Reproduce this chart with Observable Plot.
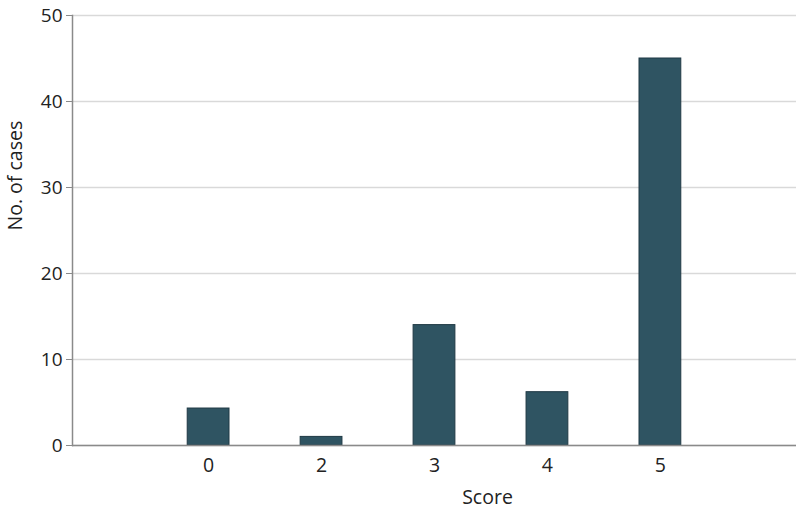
<!DOCTYPE html>
<html>
<head>
<meta charset="utf-8">
<script src="https://cdn.jsdelivr.net/npm/d3@7"></script>
<script src="https://cdn.jsdelivr.net/npm/@observablehq/plot@0.6"></script>
<style>
  html, body { margin: 0; padding: 0; background: #fff; }
  #chart { width: 800px; height: 514px; }
</style>
</head>
<body>
<div id="chart"></div>
<script>
const scores = ["0", "2", "3", "4", "5"];
const cases = [4.3, 1, 14, 6.2, 45];
const yTicks = [0, 10, 20, 30, 40, 50];
const xLabel = "Score";
const yLabel = "No. of cases";

const data = scores.map((s, i) => ({score: s, cases: cases[i]}));

const chart = Plot.plot({
  width: 800,
  height: 514,
  marginLeft: 72,
  marginRight: 4,
  marginTop: 15,
  marginBottom: 69,
  style: {fontFamily: "'Open Sans', sans-serif", fontSize: "19.5px", color: "#222", background: "#fff"},
  x: {domain: scores, paddingInner: 0.63, paddingOuter: 1.02, round: false},
  y: {domain: [0, 50]},
  marks: [
    Plot.gridY(yTicks, {stroke: "#d9d9d9", strokeOpacity: 1, strokeWidth: 1.3}),
    Plot.barY(data, {x: "score", y: "cases", fill: "#2f5462", stroke: "#1f3944", strokeWidth: 1}),
    Plot.ruleY([0], {stroke: "#8a8a8a", strokeWidth: 1.5}),
    Plot.frame({anchor: "left", stroke: "#8a8a8a", strokeWidth: 1.5}),
    Plot.axisY(yTicks, {tickSize: 6, tickPadding: 4, stroke: "#8a8a8a", label: null, fontSize: 19}),
    Plot.axisX({tickSize: 0, tickPadding: 13, label: null, fontSize: 19.5}),
    Plot.text([xLabel], {frameAnchor: "bottom", dy: 45, dx: 53, fontSize: 19.5, lineAnchor: "top", fill: "#222"}),
    Plot.text([yLabel], {frameAnchor: "left", dx: -57, rotate: -90, fontSize: 19.5, fill: "#222"})
  ]
});
document.getElementById("chart").append(chart);
</script>
</body>
</html>
